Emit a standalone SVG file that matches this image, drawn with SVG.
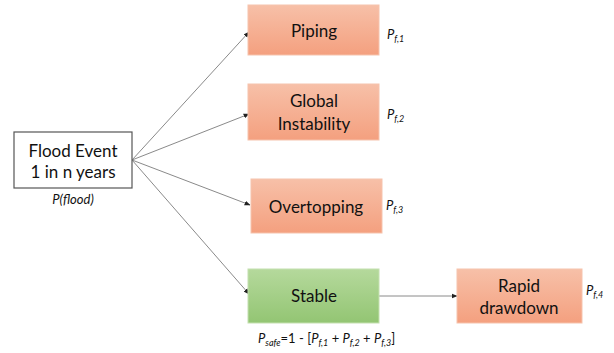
<svg xmlns="http://www.w3.org/2000/svg" width="614" height="353" viewBox="0 0 614 353">
<defs>
<linearGradient id="gO" x1="0" y1="0" x2="0" y2="1"><stop offset="0" stop-color="#f7c0a8"/><stop offset="1" stop-color="#f4a07f"/></linearGradient>
<linearGradient id="gG" x1="0" y1="0" x2="0" y2="1"><stop offset="0" stop-color="#b5d99c"/><stop offset="1" stop-color="#93c573"/></linearGradient>
<marker id="ah" viewBox="0 0 10 10" refX="9" refY="5" markerWidth="6" markerHeight="6" orient="auto" markerUnits="userSpaceOnUse"><path d="M0,1 L10,5 L0,9 z" fill="#222"/></marker>
<style>
.t{font-family:Lato,"Open Sans","Liberation Sans",sans-serif;font-size:17px;fill:#111;text-anchor:middle}
.p{font-family:Lato,"Open Sans","Liberation Sans",sans-serif;font-size:13px;font-style:italic;fill:#111}
.s{font-size:9px}
.o{fill:url(#gO);stroke:#f6c3ad;stroke-width:1}
.g{fill:url(#gG);stroke:#c4e0b0;stroke-width:1}
.c{stroke:#8a8a8a;stroke-width:1;fill:none;marker-end:url(#ah)}
</style>
</defs>
<g id="connectors">
<line class="c" x1="132" y1="160" x2="249" y2="32"/>
<line class="c" x1="132" y1="160" x2="249" y2="114"/>
<line class="c" x1="132" y1="160" x2="250" y2="205"/>
<line class="c" x1="132" y1="160" x2="249" y2="294"/>
<line class="c" x1="379" y1="296" x2="457" y2="296"/>
</g>
<g id="flood">
<rect x="14" y="132" width="118" height="56" fill="#fff" stroke="#555" stroke-width="1.2"/>
<text class="t" x="73" y="157">Flood Event</text>
<text class="t" x="73" y="178">1 in n years</text>
<text class="p" x="73" y="204" text-anchor="middle">P(flood)</text>
</g>
<g id="piping">
<rect class="o" x="248" y="5" width="131" height="50"/>
<text class="t" x="314" y="37">Piping</text>
<text class="p" x="387" y="39">P<tspan class="s" dy="3">f,1</tspan></text>
</g>
<g id="global">
<rect class="o" x="248" y="84" width="131" height="56"/>
<text class="t" x="314" y="107">Global</text>
<text class="t" x="314" y="130">Instability</text>
<text class="p" x="387" y="119">P<tspan class="s" dy="3">f,2</tspan></text>
</g>
<g id="overtopping">
<rect class="o" x="251" y="179" width="131" height="54"/>
<text class="t" x="316" y="213">Overtopping</text>
<text class="p" x="386" y="210">P<tspan class="s" dy="3">f,3</tspan></text>
</g>
<g id="stable">
<rect class="g" x="248" y="269" width="131" height="54"/>
<text class="t" x="314" y="302">Stable</text>
<text class="p" x="258" y="343" font-style="normal">P<tspan class="s" dy="3" font-style="italic">safe</tspan><tspan dy="-3" font-style="normal">=1 - [</tspan>P<tspan class="s" dy="3">f,1</tspan><tspan dy="-3" font-style="normal"> + </tspan>P<tspan class="s" dy="3">f,2</tspan><tspan dy="-3" font-style="normal"> + </tspan>P<tspan class="s" dy="3">f,3</tspan><tspan dy="-3" font-style="normal">]</tspan></text>
</g>
<g id="rapid">
<rect class="o" x="457" y="269" width="125" height="54"/>
<text class="t" x="519" y="292">Rapid</text>
<text class="t" x="519" y="314">drawdown</text>
<text class="p" x="586" y="295">P<tspan class="s" dy="3">f,4</tspan></text>
</g>
</svg>
